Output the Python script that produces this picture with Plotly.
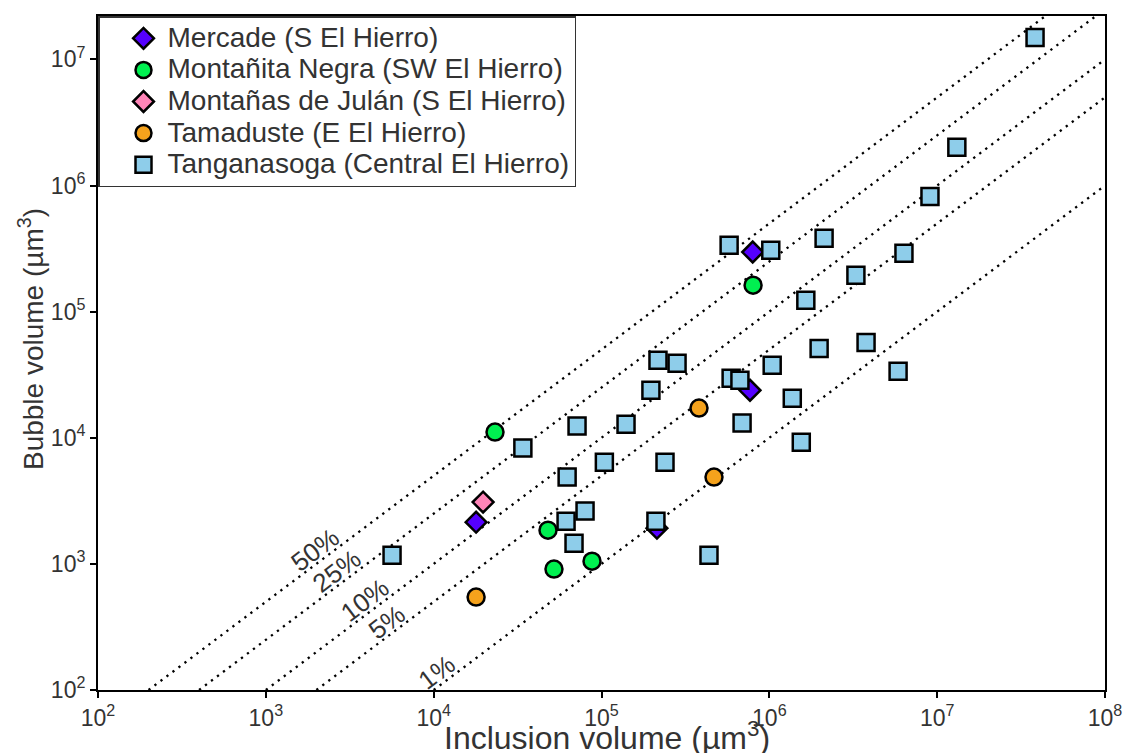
import plotly.graph_objects as go
import numpy as np

# ---- data ----
mercade_x = [1.79e4, 2.14e5, 7.67e5, 7.96e5]
mercade_y = [2.14e3, 1.92e3, 2.38e4, 2.97e5]

negra_x = [2.32e4, 4.8e4, 5.21e4, 8.78e4, 8.0e5]
negra_y = [1.11e4, 1.85e3, 910, 1.05e3, 1.62e5]

julan_x = [1.97e4]
julan_y = [3.09e3]

tamaduste_x = [1.79e4, 3.81e5, 4.68e5]
tamaduste_y = [546, 1.72e4, 4.88e3]

tang_x = [3.83e7, 1.31e7, 9.06e6, 5.76e5, 1.02e6, 2.12e6, 6.34e6, 3.28e6, 1.65e6,
          2.17e5, 2.82e5, 1.97e5, 1.04e6, 1.98e6, 3.77e6, 5.85e6, 5.92e5, 6.68e5,
          6.88e5, 1.37e6, 1.55e6, 1.40e5, 7.15e4, 3.40e4, 1.04e5, 2.39e5, 6.24e4,
          7.98e4, 6.15e4, 6.86e4, 2.11e5, 4.37e5, 5.65e3]
tang_y = [1.49e7, 2.01e6, 8.2e5, 3.36e5, 3.07e5, 3.82e5, 2.9e5, 1.94e5, 1.23e5,
          4.12e4, 3.9e4, 2.38e4, 3.76e4, 5.1e4, 5.7e4, 3.37e4, 2.97e4, 2.86e4,
          1.31e4, 2.06e4, 9.2e3, 1.28e4, 1.24e4, 8.3e3, 6.4e3, 6.4e3, 4.88e3,
          2.62e3, 2.18e3, 1.46e3, 2.18e3, 1.17e3, 1.17e3]

series_names = ["Mercade (S El Hierro)", "Montañita Negra (SW El Hierro)",
                "Montañas de Julán (S El Hierro)", "Tamaduste (E El Hierro)",
                "Tanganasoga (Central El Hierro)"]

ratios = [0.5, 0.25, 0.1, 0.05, 0.01]
ratio_labels = ["50%", "25%", "10%", "5%", "1%"]
label_x = [1.96e3, 2.65e3, 3.90e3, 5.27e3, 1.05e4]   # inclusion volume where label sits

tick_vals = [1e2, 1e3, 1e4, 1e5, 1e6, 1e7, 1e8]
tick_text = ["10<sup>2</sup>", "10<sup>3</sup>", "10<sup>4</sup>", "10<sup>5</sup>",
             "10<sup>6</sup>", "10<sup>7</sup>", "10<sup>8</sup>"]

x_title = "Inclusion volume (µm<sup>3</sup>)"
y_title = "Bubble volume (µm<sup>3</sup>)"

FONT = "Liberation Sans, Arial, sans-serif"
TXT = "#333333"


def big(s):
    return '<span style="font-size:28px">' + s + '</span>'


fig = go.Figure()

# reference ratio lines
for r in ratios:
    xs = [1e2 / r, 1e8]
    ys = [x * r for x in xs]
    fig.add_trace(go.Scatter(x=xs, y=ys, mode="lines", showlegend=False,
                             line=dict(color="black", width=2.3, dash="2.3px,5.2px"),
                             hoverinfo="skip"))

edge = dict(color="black", width=2.5)
fig.add_trace(go.Scatter(x=mercade_x, y=mercade_y, mode="markers",
                         name=big(series_names[0]),
                         marker=dict(symbol="diamond", size=16, color="#5500ff", line=edge)))
fig.add_trace(go.Scatter(x=negra_x, y=negra_y, mode="markers",
                         name=big(series_names[1]),
                         marker=dict(symbol="circle", size=17, color="#00f050", line=edge)))
fig.add_trace(go.Scatter(x=julan_x, y=julan_y, mode="markers",
                         name=big(series_names[2]),
                         marker=dict(symbol="diamond", size=16, color="#ff85b8", line=edge)))
fig.add_trace(go.Scatter(x=tamaduste_x, y=tamaduste_y, mode="markers",
                         name=big(series_names[3]),
                         marker=dict(symbol="circle", size=17, color="#f5a21c", line=edge)))
fig.add_trace(go.Scatter(x=tang_x, y=tang_y, mode="markers",
                         name=big(series_names[4]),
                         marker=dict(symbol="square", size=17, color="#8ecdea", line=edge)))

for r, lab, lx in zip(ratios, ratio_labels, label_x):
    fig.add_annotation(x=np.log10(lx), y=np.log10(lx * r), text=lab, showarrow=False,
                       textangle=-37, yshift=15,
                       font=dict(family=FONT, size=26, color=TXT))

# axis titles
fig.add_annotation(xref="paper", yref="paper", x=-0.0665, y=0.5, yshift=14,
                   text=y_title, textangle=-90, showarrow=False,
                   xanchor="center", yanchor="middle",
                   font=dict(family=FONT, size=28, color=TXT))
fig.add_annotation(xref="paper", yref="paper", x=0.505, y=-0.0686,
                   text=x_title, showarrow=False,
                   xanchor="center", yanchor="middle",
                   font=dict(family=FONT, size=32, color=TXT))

axis_common = dict(type="log", showgrid=False, zeroline=False, showline=True,
                   linecolor="black", linewidth=2, mirror=True, ticks="outside",
                   ticklen=6, tickwidth=1.5, tickcolor="black",
                   tickvals=tick_vals, ticktext=tick_text,
                   tickfont=dict(family=FONT, size=23, color=TXT))

fig.update_xaxes(range=[2, 8], **axis_common)
fig.update_yaxes(range=[2, 7.344], **axis_common)

fig.update_layout(
    width=1123, height=753,
    margin=dict(l=98, r=18, t=16, b=63, autoexpand=False),
    paper_bgcolor="white", plot_bgcolor="white",
    font=dict(family=FONT, color=TXT),
    legend=dict(x=0, y=1, xanchor="left", yanchor="top",
                bgcolor="white", bordercolor="#333333", borderwidth=1.5,
                font=dict(family=FONT, size=22, color=TXT),
                itemwidth=38, tracegroupgap=0, indentation=20),
    showlegend=True,
)

fig.write_html("out.html")
